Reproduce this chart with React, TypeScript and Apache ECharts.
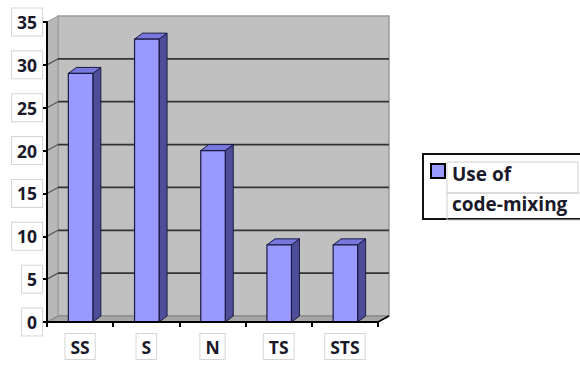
import React, { useEffect, useRef } from "react";
import * as echarts from "echarts";

const categories = ["SS", "S", "N", "TS", "STS"];
const values = [29, 33, 20, 9, 9];
const yMin = 0;
const yMax = 35;
const yInterval = 5;
const seriesName = "Use of code-mixing";
const legendLines = ["Use of", "code-mixing"];

const FONT = "'Open Sans', sans-serif";

export default function App() {
  const ref = useRef<HTMLDivElement>(null);
  useEffect(() => {
    if (!ref.current) return;
    const chart = echarts.init(ref.current, null, { renderer: "svg" });
    const WDX = 11, WDY = -6; // wall depth
    const BDX = 8, BDY = -6; // bar depth
    const labelBox = {
      fontFamily: FONT,
      fontWeight: "bold" as const,
      fontSize: 17.5,
      color: "#1a1a2a",
      backgroundColor: "#fff",
      borderColor: "#d6d6d6",
      borderWidth: 1,
    };
    const option: any = {
      animation: false,
      backgroundColor: "#fff",
      grid: { left: 47, top: 22, width: 331, height: 300 },
      xAxis: {
        type: "category",
        data: categories,
        z: 10,
        axisLine: { lineStyle: { color: "#000", width: 2 } },
        axisTick: { show: true, length: 5, lineStyle: { color: "#000", width: 2 } },
        axisLabel: { ...labelBox, margin: 12, padding: [4, 5, 3, 5] },
        splitLine: { show: false },
      },
      yAxis: {
        type: "value",
        min: yMin,
        max: yMax,
        interval: yInterval,
        z: 10,
        axisLine: { show: true, lineStyle: { color: "#000", width: 2 } },
        axisTick: { show: true, length: 4, lineStyle: { color: "#000", width: 2 } },
        axisLabel: { ...labelBox, margin: 5, padding: [5, 5, 4, 5] },
        splitLine: { show: false },
      },
      series: [
        {
          type: "custom",
          name: "walls",
          silent: true,
          z: 1,
          data: [[0, 0]],
          renderItem: (params: any, api: any) => {
            const band = api.size([1, 0])[0];
            const p0 = api.coord([0, yMin]);
            const x0 = p0[0] - band / 2;
            const yb = p0[1];
            const yt = api.coord([0, yMax])[1];
            const x1 = x0 + band * categories.length;
            const children: any[] = [
              {
                type: "rect",
                shape: { x: x0 + WDX, y: yt + WDY, width: x1 - x0, height: yb - yt },
                style: { fill: "#c0c0c0", stroke: "#9a9a9a", lineWidth: 1.5 },
              },
              {
                type: "polygon",
                shape: { points: [[x0, yt], [x0 + WDX, yt + WDY], [x0 + WDX, yb + WDY], [x0, yb]] },
                style: { fill: "#b8b8b8", stroke: "#9a9a9a", lineWidth: 1 },
              },
              {
                type: "polygon",
                shape: { points: [[x0, yb], [x0 + WDX, yb + WDY], [x1 + WDX, yb + WDY], [x1, yb]] },
                style: { fill: "#a6a6a6", stroke: "#808080", lineWidth: 1 },
              },
            ];
            for (let v = yMin + yInterval; v < yMax; v += yInterval) {
              const y = api.coord([0, v])[1];
              children.push({
                type: "line",
                shape: { x1: x0 + WDX, y1: y + WDY, x2: x1 + WDX, y2: y + WDY },
                style: { stroke: "#333", lineWidth: 1.8 },
              });
              children.push({
                type: "line",
                shape: { x1: x0, y1: y, x2: x0 + WDX, y2: y + WDY },
                style: { stroke: "#555", lineWidth: 1.2 },
              });
            }
            children.push({
              type: "line",
              shape: { x1: x1, y1: yb, x2: x1 + WDX, y2: yb + WDY },
              style: { stroke: "#000", lineWidth: 1.5 },
            });
            return { type: "group", children };
          },
        },
        {
          type: "custom",
          name: seriesName,
          z: 3,
          data: values.map((v, i) => [i, v]),
          renderItem: (params: any, api: any) => {
            const band = api.size([1, 0])[0];
            const c = api.coord([api.value(0), api.value(1)]);
            const b = api.coord([api.value(0), yMin]);
            const w = band * 0.37;
            const x = c[0] - w / 2 + 0.5;
            const stroke = "#1a1a40";
            return {
              type: "group",
              children: [
                {
                  type: "polygon",
                  shape: { points: [[x + w, c[1]], [x + w + BDX, c[1] + BDY], [x + w + BDX, b[1] + BDY], [x + w, b[1]]] },
                  style: { fill: "#4d4d99", stroke, lineWidth: 1 },
                },
                {
                  type: "polygon",
                  shape: { points: [[x, c[1]], [x + BDX, c[1] + BDY], [x + w + BDX, c[1] + BDY], [x + w, c[1]]] },
                  style: { fill: "#7777dd", stroke, lineWidth: 1 },
                },
                {
                  type: "rect",
                  shape: { x, y: c[1], width: w, height: b[1] - c[1] },
                  style: { fill: "#9999ff", stroke, lineWidth: 1.2 },
                },
              ],
            };
          },
        },
      ],
      graphic: [
        {
          type: "group",
          left: 422,
          top: 153,
          children: [
            { type: "rect", shape: { x: 0, y: 0, width: 170, height: 65 }, style: { fill: "#fff", stroke: "#111", lineWidth: 2 } },
            { type: "rect", shape: { x: 24, y: 8, width: 131, height: 31 }, style: { fill: "none", stroke: "#cfcfcf", lineWidth: 1 } },
            { type: "rect", shape: { x: 24, y: 39, width: 150, height: 27 }, style: { fill: "none", stroke: "#cfcfcf", lineWidth: 1 } },
            { type: "rect", shape: { x: 8, y: 10, width: 14, height: 14 }, style: { fill: "#9999ff", stroke: "#000", lineWidth: 2 } },
            {
              type: "text",
              x: 29,
              y: 20,
              style: { text: legendLines[0], fontFamily: FONT, fontWeight: "bold", fontSize: 19, fill: "#1a1a2a", verticalAlign: "middle" },
            },
            {
              type: "text",
              x: 29,
              y: 50,
              style: { text: legendLines[1], fontFamily: FONT, fontWeight: "bold", fontSize: 19, fill: "#1a1a2a", verticalAlign: "middle" },
            },
          ],
        },
      ],
    };
    chart.setOption(option);
    return () => chart.dispose();
  }, []);
  return <div ref={ref} style={{ position: "fixed", left: 0, top: 0, width: 580, height: 365 }} />;
}
